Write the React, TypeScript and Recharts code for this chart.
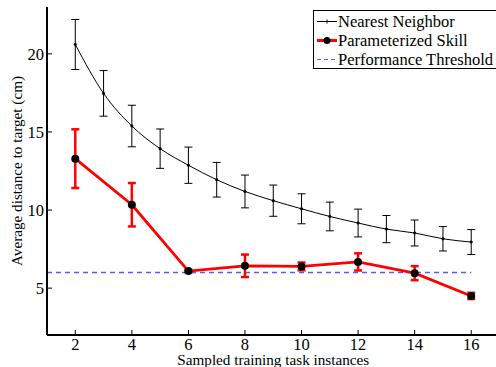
import { LineChart, Line, XAxis, YAxis, ErrorBar } from 'recharts';

// Nearest Neighbor: every task count from 2 to 16
const nnX = [2, 3, 4, 5, 6, 7, 8, 9, 10, 11, 12, 13, 14, 15, 16];
const nnMean = [20.6, 17.47, 15.38, 13.93, 12.87, 11.94, 11.19, 10.6, 10.08, 9.59, 9.17, 8.78, 8.53, 8.16, 7.95];
const nnErr = [1.6, 1.46, 1.33, 1.26, 1.16, 1.11, 1.05, 1.0, 0.96, 0.92, 0.89, 0.87, 0.83, 0.78, 0.8];

// Parameterized Skill: even task counts only
const psX = [2, 4, 6, 8, 10, 12, 14, 16];
const psMean = [13.29, 10.34, 6.09, 6.43, 6.39, 6.68, 5.96, 4.5];
const psErr = [1.88, 1.39, 0.08, 0.72, 0.25, 0.55, 0.45, 0.2];

// Performance threshold line
const thresholdX = [1, 16];
const thresholdValue = 6;

const xTicks = [2, 4, 6, 8, 10, 12, 14, 16];
const yTicks = [5, 10, 15, 20];

const FONT = '"Liberation Serif", "Times New Roman", serif';

const nnData = nnX.map((x, i) => ({ x, y: nnMean[i], err: nnErr[i] }));
const psData = psX.map((x, i) => ({ x, y: psMean[i], err: psErr[i] }));
const thrData = thresholdX.map((x) => ({ x, y: thresholdValue }));

const tickStyle = { fill: '#000', fontSize: 16.5, fontFamily: FONT };

function LegendBox() {
  const row = { display: 'flex', alignItems: 'center', height: 19, whiteSpace: 'nowrap' as const };
  return (
    <div
      style={{
        position: 'absolute',
        left: 313,
        top: 10,
        width: 190,
        height: 56,
        border: '1.5px solid #000',
        background: '#fff',
        fontFamily: FONT,
        fontSize: 16.5,
        lineHeight: '19px',
        color: '#000',
        paddingLeft: 2,
        paddingTop: 1,
        boxSizing: 'content-box',
      }}
    >
      <div style={row}>
        <svg width={22} height={19}>
          <line x1={1} y1={9.5} x2={21} y2={9.5} stroke="#000" strokeWidth={1} />
          <line x1={11} y1={7.5} x2={11} y2={11.5} stroke="#000" strokeWidth={1} />
        </svg>
        <span>Nearest Neighbor</span>
      </div>
      <div style={row}>
        <svg width={22} height={19}>
          <line x1={1} y1={9.5} x2={21} y2={9.5} stroke="#ff0000" strokeWidth={3} />
          <circle cx={11} cy={9.5} r={3.5} fill="#000" />
        </svg>
        <span>Parameterized Skill</span>
      </div>
      <div style={row}>
        <svg width={22} height={19}>
          <line x1={1} y1={9.5} x2={21} y2={9.5} stroke="#5a5aff" strokeWidth={1.2} strokeDasharray="4 3" />
        </svg>
        <span>Performance Threshold</span>
      </div>
    </div>
  );
}

export default function App() {
  return (
    <div style={{ position: 'absolute', left: 0, top: 0, width: 496, height: 367, overflow: 'hidden', background: '#fff' }}>
      <LineChart width={500} height={367} margin={{ top: 7, right: 0.5, bottom: 0, left: 0 }}>
        <XAxis
          dataKey="x"
          type="number"
          domain={[1, 17]}
          ticks={xTicks}
          allowDataOverflow
          height={32}
          tickSize={-5}
          tickMargin={8}
          tick={tickStyle}
          axisLine={{ stroke: '#000', strokeWidth: 2 }}
          tickLine={{ stroke: '#000', strokeWidth: 1 }}
          label={{
            value: 'Sampled training task instances',
            position: 'insideBottom',
            offset: 2,
            fill: '#000',
            fontSize: 15.2,
            fontFamily: FONT,
          }}
        />
        <XAxis
          xAxisId="top"
          orientation="top"
          type="number"
          domain={[1, 17]}
          ticks={xTicks}
          allowDataOverflow
          height={0}
          tickSize={-5}
          tick={false}
          axisLine={{ stroke: '#000', strokeWidth: 1.5 }}
          tickLine={{ stroke: '#000', strokeWidth: 1 }}
        />
        <YAxis
          type="number"
          domain={[2, 23]}
          ticks={yTicks}
          allowDataOverflow
          width={47}
          tickSize={-5}
          tickMargin={8}
          tick={tickStyle}
          axisLine={{ stroke: '#000', strokeWidth: 2 }}
          tickLine={{ stroke: '#000', strokeWidth: 1 }}
          label={{
            content: () => (
              <text
                transform="translate(21.5,171) rotate(-90)"
                textAnchor="middle"
                fill="#000"
                fontSize={15.2}
                fontFamily={FONT}
              >
                Average distance to target (cm)
              </text>
            ),
          }}
        />
        <YAxis
          yAxisId="right"
          orientation="right"
          type="number"
          domain={[2, 23]}
          ticks={yTicks}
          allowDataOverflow
          width={0}
          tickSize={-5}
          tick={false}
          axisLine={{ stroke: '#000', strokeWidth: 1.5 }}
          tickLine={{ stroke: '#000', strokeWidth: 1 }}
        />
        <Line
          data={thrData}
          dataKey="y"
          type="linear"
          stroke="#5a5aff"
          strokeWidth={1.3}
          strokeDasharray="5 4"
          dot={false}
          activeDot={false}
          isAnimationActive={false}
        />
        <Line
          data={nnData}
          dataKey="y"
          type="monotone"
          stroke="#000"
          strokeWidth={1}
          dot={{ r: 1.3, fill: '#000', stroke: '#000', strokeWidth: 0.5 }}
          activeDot={false}
          isAnimationActive={false}
        >
          <ErrorBar dataKey="err" width={4} stroke="#000" strokeWidth={1} direction="y" />
        </Line>
        <Line
          data={psData}
          dataKey="y"
          type="linear"
          stroke="#ff0000"
          strokeWidth={2.8}
          dot={{ r: 4, fill: '#000', stroke: '#000', strokeWidth: 0 }}
          activeDot={false}
          isAnimationActive={false}
        >
          <ErrorBar dataKey="err" width={4} stroke="#ff0000" strokeWidth={2.5} direction="y" />
        </Line>
      </LineChart>
      <LegendBox />
    </div>
  );
}
